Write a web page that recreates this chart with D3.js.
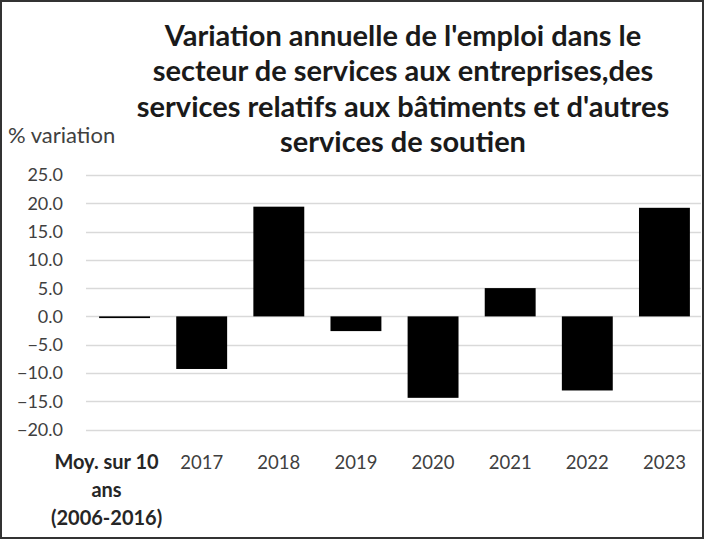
<!DOCTYPE html>
<html>
<head>
<meta charset="utf-8">
<script src="https://cdn.jsdelivr.net/npm/d3@7"></script>
<style>
  body { margin: 0; background: #fff; }
  svg { display: block; font-family: Lato, "Open Sans", sans-serif; }
</style>
</head>
<body>
<svg id="chart"></svg>
<script>
const categories = ["Moy. sur 10 ans (2006-2016)", "2017", "2018", "2019", "2020", "2021", "2022", "2023"];
const firstLabel = ["Moy. sur 10", "ans", "(2006-2016)"];
const values = [-0.3, -9.3, 19.4, -2.6, -14.4, 5.0, -13.1, 19.2];
const yTicks = [25, 20, 15, 10, 5, 0, -5, -10, -15, -20];
const titleLines = [
  "Variation annuelle de l'emploi dans le",
  "secteur de services aux entreprises,des",
  "services relatifs aux bâtiments et d'autres",
  "services de soutien"
];

const W = 704, H = 539;
const svg = d3.select("#chart")
  .attr("width", W)
  .attr("height", H);

// outer frame
svg.append("rect")
  .attr("x", 1).attr("y", 1)
  .attr("width", W - 2).attr("height", H - 2)
  .attr("fill", "#fff")
  .attr("stroke", "#333")
  .attr("stroke-width", 2);

const x = d3.scaleBand()
  .domain(categories)
  .range([86, 703])
  .paddingInner(0.34)
  .paddingOuter(0.17);

const y = d3.scaleLinear()
  .domain([-20, 25])
  .range([429.5, 175]);

// grid lines
svg.append("g")
  .selectAll("line")
  .data(yTicks)
  .enter()
  .append("line")
  .attr("x1", 86)
  .attr("x2", 701)
  .attr("y1", d => Math.round(y(d)) + 0.5)
  .attr("y2", d => Math.round(y(d)) + 0.5)
  .attr("stroke", "#d9d9d9")
  .attr("stroke-width", 1.5);

// y tick labels
svg.append("g")
  .selectAll("text")
  .data(yTicks)
  .enter()
  .append("text")
  .attr("x", 63)
  .attr("y", d => y(d))
  .attr("dy", "0.36em")
  .attr("text-anchor", "end")
  .attr("font-size", 18)
  .attr("fill", "#404040")
  .text(d => d3.format(".1f")(d));

// bars
svg.append("g")
  .selectAll("rect")
  .data(values)
  .enter()
  .append("rect")
  .attr("x", (d, i) => x(categories[i]))
  .attr("width", x.bandwidth())
  .attr("y", d => y(Math.max(0, d)))
  .attr("height", d => Math.max(1.5, Math.abs(y(d) - y(0))))
  .attr("fill", "#000");

// x labels
const xl = svg.append("g");
categories.forEach((c, i) => {
  const cx = x(c) + x.bandwidth() / 2;
  if (i === 0) {
    const t = xl.append("text")
      .attr("text-anchor", "middle")
      .attr("font-size", 20)
      .attr("font-weight", "bold")
      .attr("fill", "#262626");
    firstLabel.forEach((s, k) => {
      t.append("tspan")
        .attr("x", cx - 18)
        .attr("y", 469 + k * 28)
        .text(s);
    });
  } else {
    xl.append("text")
      .attr("x", cx)
      .attr("y", 469)
      .attr("text-anchor", "middle")
      .attr("font-size", 18.5)
      .attr("fill", "#404040")
      .text(c);
  }
});

// axis title
svg.append("text")
  .attr("x", 8)
  .attr("y", 143)
  .attr("font-size", 22)
  .attr("fill", "#404040")
  .text("% variation");

// chart title
svg.append("g")
  .selectAll("text")
  .data(titleLines)
  .enter()
  .append("text")
  .attr("x", 403)
  .attr("y", (d, i) => 46 + i * 35.3)
  .attr("text-anchor", "middle")
  .attr("font-size", 29)
  .attr("font-weight", "bold")
  .attr("fill", "#1a1a1a")
  .text(d => d);
</script>
</body>
</html>
